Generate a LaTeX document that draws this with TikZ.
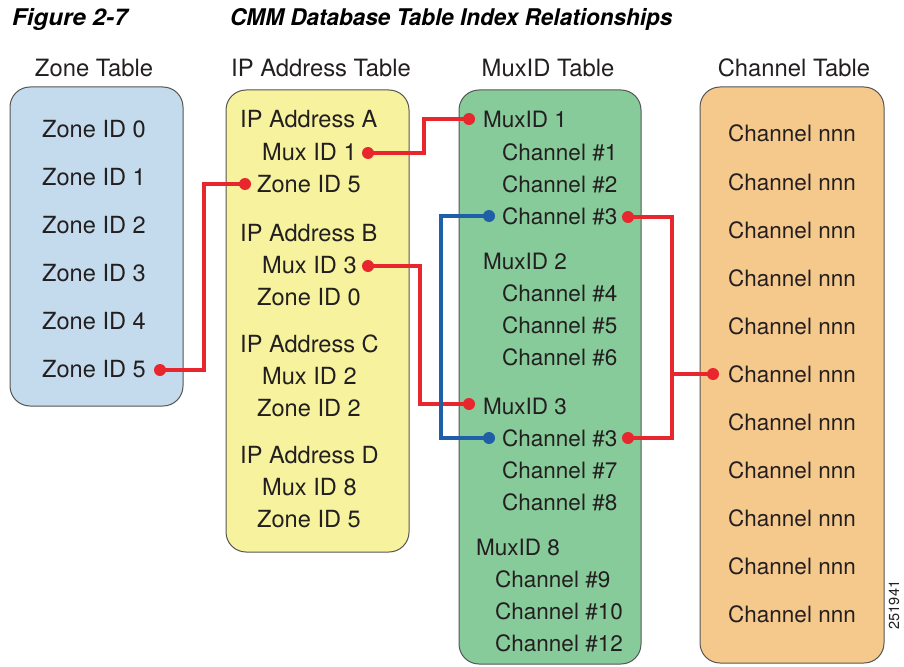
\documentclass[tikz,border=0pt]{standalone}
\usepackage{fontspec}
\setmainfont{TeX Gyre Heros}
\definecolor{zonec}{HTML}{C3DBEC}
\definecolor{ipc}{HTML}{F6F29D}
\definecolor{muxc}{HTML}{87CB9A}
\definecolor{chc}{HTML}{F5C98C}
\definecolor{bordc}{HTML}{555555}
\definecolor{txtc}{HTML}{231F20}
\definecolor{linered}{HTML}{E8262E}
\definecolor{lineblue}{HTML}{1F5FA8}
\begin{document}
\begin{tikzpicture}[x=1pt,y=-1pt,
  tbox/.style={draw=bordc,line width=1pt,rounded corners=20pt},
  txt/.style={anchor=west,inner sep=0pt,font=\fontsize{22.5}{26}\selectfont,text=txtc,text height=16pt,text depth=0pt},
  wtxt/.style={txt,font=\fontsize{23.6}{26}\selectfont},
  head/.style={anchor=center,inner sep=0pt,font=\fontsize{23.8}{26}\selectfont,text=txtc,text height=16pt,text depth=0pt},
  title/.style={anchor=west,inner sep=0pt,font=\fontsize{23}{26}\selectfont\bfseries\itshape,text=black,text height=17pt,text depth=0pt},
  rline/.style={draw=linered,line width=3.5pt},
  bline/.style={draw=lineblue,line width=3.5pt},
  rdot/.style={fill=linered},
  bdot/.style={fill=lineblue}]
\useasboundingbox (0,0) rectangle (904,666);

% title
\node[title] (fig) at (12,17) {\scalebox{1.05}[1]{Figure 2-7}};
\node[title] (ttl) at (230,17) {\scalebox{0.98}[1]{CMM Database Table Index Relationships}};

% headers
\node[head] (hz) at (94,69) {Zone Table};
\node[head] (hi) at (321,69) {IP Address Table};
\node[head] (hm) at (548,69) {MuxID Table};
\node[head] (hc) at (794,69) {Channel Table};

% boxes
\draw[tbox,fill=zonec] (10,87) rectangle (183,406);
\draw[tbox,fill=ipc] (226,90) rectangle (409,552);
\draw[tbox,fill=muxc] (459,90) rectangle (641,664);
\draw[tbox,fill=chc] (700,87) rectangle (884,663);

% zone table
\foreach \i/\y in {0/129,1/177,2/225,3/273,4/321,5/369}
  \node[wtxt] (z\i) at (42,\y) {Zone ID \i};

% IP table
\node[wtxt] (ipa) at (240,120) {IP Address A};
\node[wtxt] (ipam) at (262,152) {Mux ID 1};
\node[wtxt] (ipaz) at (257,184) {Zone ID 5};
\node[wtxt] (ipb) at (240,233) {IP Address B};
\node[wtxt] (ipbm) at (262,265) {Mux ID 3};
\node[wtxt] (ipbz) at (257,297) {Zone ID 0};
\node[wtxt] (ipc) at (240,344) {IP Address C};
\node[wtxt] (ipcm) at (262,376) {Mux ID 2};
\node[wtxt] (ipcz) at (257,408) {Zone ID 2};
\node[wtxt] (ipd) at (240,455) {IP Address D};
\node[wtxt] (ipdm) at (262,487) {Mux ID 8};
\node[wtxt] (ipdz) at (257,519) {Zone ID 5};

% Mux table
\node[txt] (m1) at (483,120) {MuxID 1};
\node[txt] (c1) at (502,152) {Channel \#1};
\node[txt] (c2) at (502,184) {Channel \#2};
\node[txt] (c3a) at (502,216) {Channel \#3};
\node[txt] (m2) at (483,261) {MuxID 2};
\node[txt] (c4) at (502,293) {Channel \#4};
\node[txt] (c5) at (502,325) {Channel \#5};
\node[txt] (c6) at (502,357) {Channel \#6};
\node[txt] (m3) at (483,406) {MuxID 3};
\node[txt] (c3b) at (502,438) {Channel \#3};
\node[txt] (c7) at (502,470) {Channel \#7};
\node[txt] (c8) at (502,502) {Channel \#8};
\node[txt] (m8) at (476,547) {MuxID 8};
\node[txt] (c9) at (495,579) {Channel \#9};
\node[txt] (c10) at (495,611) {Channel \#10};
\node[txt] (c12) at (495,643) {Channel \#12};

% Channel table
\foreach \k/\y in {1/134,2/182,3/230,4/278,5/326,6/374,7/422,8/470,9/518,10/566,11/614}
  \node[txt] (ch\k) at (728,\y) {Channel nnn};

% side number
\node[anchor=center,inner sep=0pt,rotate=90,font=\fontsize{14.5}{16}\selectfont,text=txtc] (num) at (894,605) {251941};

% connector end points
\coordinate (pz5) at (160,370);
\coordinate (pipz) at (245,184);
\coordinate (pipm1) at (368,153);
\coordinate (pm1) at (469,119);
\coordinate (pipm3) at (368,266);
\coordinate (pm3) at (469,404);
\coordinate (pc3al) at (489,216);
\coordinate (pc3bl) at (489,438);
\coordinate (pc3ar) at (628,217);
\coordinate (pc3br) at (628,438);
\coordinate (pch6) at (713,374);
\coordinate (jn) at (672,374);

% connectors
\draw[rline] (pz5) -- ++(44,0) |- (pipz);
\draw[rline] (pipm1) -- ++(56,0) |- (pm1);
\draw[rline] (pipm3) -- ++(52,0) |- (pm3);
\draw[bline] (pc3al) -- ++(-48,0) |- (pc3bl);
\draw[rline] (pc3ar) -| (jn) |- (pc3br);
\draw[rline] (jn) -- (pch6);

% dots
\foreach \p in {pz5,pipz,pipm1,pm1,pipm3,pm3,pc3ar,pc3br,pch6}
  \fill[rdot] (\p) circle (6pt);
\foreach \p in {pc3al,pc3bl}
  \fill[bdot] (\p) circle (6pt);
\end{tikzpicture}
\end{document}
